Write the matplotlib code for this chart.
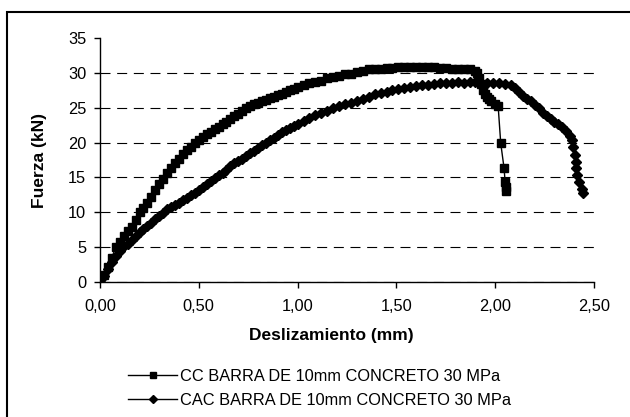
import matplotlib
matplotlib.use('Agg')
import matplotlib.pyplot as plt
from matplotlib.patches import Rectangle

plt.rcParams['font.family'] = ['Liberation Sans', 'DejaVu Sans']

# Deslizamiento (mm) vs Fuerza (kN)
cc_x = [0.00, 0.02, 0.04, 0.06, 0.08, 0.10, 0.12, 0.14, 0.16, 0.18, 0.20, 0.22, 0.24,
        0.26, 0.28, 0.30, 0.32, 0.34, 0.36, 0.38, 0.40, 0.42, 0.44, 0.46, 0.48, 0.50,
        0.52, 0.54, 0.56, 0.58, 0.60, 0.62, 0.64, 0.66, 0.68, 0.70, 0.72, 0.74, 0.76,
        0.78, 0.80, 0.82, 0.84, 0.86, 0.88, 0.90, 0.92, 0.94, 0.96, 0.98, 1.00, 1.03,
        1.06, 1.09, 1.12, 1.15, 1.18, 1.21, 1.24, 1.27, 1.30, 1.33, 1.36, 1.39, 1.42,
        1.45, 1.48, 1.51, 1.54, 1.57, 1.60, 1.63, 1.66, 1.69, 1.72, 1.75, 1.78, 1.81,
        1.84, 1.87, 1.90, 1.91, 1.92, 1.93, 1.94, 1.95, 1.96, 1.97, 1.98, 2.00, 2.015,
        2.028, 2.045, 2.05, 2.055, 2.055]
cc_y = [0.0, 1.0, 2.2, 3.5, 5.0, 5.8, 6.6, 7.3, 7.9, 8.9, 10.0, 10.6, 11.4,
        12.2, 13.2, 14.1, 14.8, 15.6, 16.3, 17.0, 17.6, 18.3, 18.9, 19.4, 19.9, 20.4,
        20.8, 21.2, 21.5, 21.9, 22.2, 22.6, 23.0, 23.4, 23.8, 24.1, 24.5, 24.9, 25.3,
        25.5, 25.7, 25.9, 26.1, 26.4, 26.6, 26.8, 27.0, 27.2, 27.5, 27.7, 27.9, 28.2,
        28.5, 28.7, 28.9, 29.2, 29.4, 29.6, 29.8, 29.9, 30.1, 30.3, 30.5, 30.6, 30.6,
        30.7, 30.7, 30.8, 30.8, 30.9, 30.9, 30.9, 30.8, 30.8, 30.7, 30.7, 30.6, 30.6,
        30.5, 30.5, 30.3, 30.0, 29.3, 28.4, 27.5, 27.0, 26.6, 26.3, 26.0, 25.6, 25.2,
        19.9, 16.3, 14.4, 13.6, 13.0]

cac_x = [0.00, 0.02, 0.04, 0.06, 0.08, 0.10, 0.12, 0.14, 0.16, 0.18, 0.20, 0.22, 0.24,
         0.26, 0.28, 0.30, 0.32, 0.34, 0.36, 0.38, 0.40, 0.42, 0.44, 0.46, 0.48, 0.50,
         0.52, 0.54, 0.56, 0.58, 0.60, 0.62, 0.64, 0.66, 0.68, 0.70, 0.72, 0.74, 0.76,
         0.78, 0.80, 0.82, 0.84, 0.86, 0.88, 0.90, 0.92, 0.94, 0.96, 0.98, 1.00, 1.03,
         1.06, 1.09, 1.12, 1.15, 1.18, 1.21, 1.24, 1.27, 1.30, 1.33, 1.36, 1.39, 1.42,
         1.45, 1.48, 1.51, 1.54, 1.57, 1.60, 1.63, 1.66, 1.69, 1.72, 1.75, 1.78, 1.81,
         1.84, 1.87, 1.90, 1.93, 1.96, 1.99, 2.02, 2.05, 2.08, 2.10, 2.12, 2.14, 2.16,
         2.18, 2.20, 2.22, 2.24, 2.26, 2.28, 2.30, 2.32, 2.34, 2.36, 2.38, 2.39, 2.395,
         2.405, 2.41, 2.41, 2.415, 2.425, 2.44, 2.445]
cac_y = [0.0, 0.9, 1.9, 2.9, 3.8, 4.4, 5.1, 5.5, 6.0, 6.6, 7.2, 7.6, 8.0,
         8.5, 9.0, 9.4, 9.9, 10.4, 10.7, 11.0, 11.3, 11.7, 12.1, 12.5, 12.8, 13.2,
         13.6, 14.1, 14.5, 14.9, 15.3, 15.7, 16.1, 16.6, 17.0, 17.4, 17.7, 18.1, 18.5,
         18.8, 19.2, 19.6, 19.9, 20.3, 20.7, 21.1, 21.5, 21.8, 22.1, 22.4, 22.7, 23.1,
         23.5, 23.9, 24.2, 24.5, 24.9, 25.2, 25.5, 25.7, 25.9, 26.3, 26.6, 26.9, 27.1,
         27.3, 27.5, 27.7, 27.8, 28.0, 28.1, 28.2, 28.3, 28.4, 28.5, 28.6, 28.6, 28.7,
         28.6, 28.7, 28.7, 28.6, 28.5, 28.5, 28.5, 28.4, 28.2, 27.8, 27.3, 26.7, 26.2,
         25.9, 25.4, 24.9, 24.3, 23.8, 23.4, 23.0, 22.6, 22.2, 21.6, 20.9, 20.4, 19.4,
         18.2, 17.2, 16.4, 15.3, 14.3, 13.4, 12.8]

x_ticks = [0.0, 0.5, 1.0, 1.5, 2.0, 2.5]
x_labels = ['0,00', '0,50', '1,00', '1,50', '2,00', '2,50']
y_ticks = [0, 5, 10, 15, 20, 25, 30, 35]

fig = plt.figure(figsize=(6.3, 4.17), dpi=100)
ax = fig.add_axes([100/630, 135/417, 494/630, 244/417])

# outer chart border (cut off at right and bottom like the original)
fig.patches.append(Rectangle((7/630, -0.2), 1.5, 1.2 - 12/417, transform=fig.transFigure,
                             fill=False, edgecolor='black', linewidth=1.5))

ax.plot(cc_x, cc_y, color='black', lw=1, marker='s', markersize=5.2,
        label='CC BARRA DE 10mm CONCRETO 30 MPa')
ax.plot(cac_x, cac_y, color='black', lw=1, marker='D', markersize=5.2,
        label='CAC BARRA DE 10mm CONCRETO 30 MPa')

ax.set_xlim(0, 2.5)
ax.set_ylim(0, 35)
ax.set_xticks(x_ticks)
ax.set_xticklabels(x_labels)
ax.set_yticks(y_ticks)
ax.tick_params(direction='out', length=4, width=1, labelsize=11.8, color='black')
ax.tick_params(axis='x', pad=8)
ax.tick_params(axis='y', pad=6)

ax.spines['top'].set_visible(False)
ax.spines['right'].set_visible(False)
ax.spines['left'].set_linewidth(1)
ax.spines['bottom'].set_linewidth(1)

ax.yaxis.grid(True, color='black', lw=0.8, linestyle=(0, (9, 6)))
ax.yaxis.get_gridlines()[-1].set_visible(False)
ax.set_axisbelow(True)

ax.set_xlabel('Deslizamiento (mm)', fontsize=12.5, fontweight='bold')
ax.xaxis.set_label_coords(0.468, -0.19)
ax.set_ylabel('Fuerza (kN)', fontsize=12.5, fontweight='bold')
ax.yaxis.set_label_coords(-0.108, 0.5)

fig.legend(loc='upper left', bbox_to_anchor=(128/630, 1 - 369/417), frameon=False,
           fontsize=11.8, handlelength=3.0, handletextpad=0.2, labelspacing=0.55,
           markerscale=0.7, borderaxespad=0, borderpad=0)

plt.savefig('out.png', dpi=100)
